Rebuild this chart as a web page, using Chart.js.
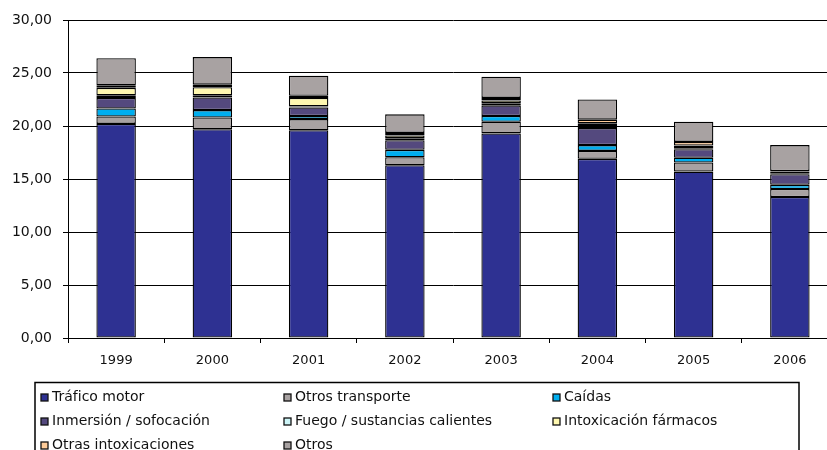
<!DOCTYPE html>
<html lang="es">
<head>
<meta charset="utf-8">
<title>Mortalidad por causas externas 1999-2006</title>
<script src="https://cdn.jsdelivr.net/npm/chart.js@4.4.1/dist/chart.umd.min.js"></script>
<style>
    html, body { margin: 0; padding: 0; background: #fff; overflow: hidden; }
    #caja { width: 840px; height: 460px; }
</style>
</head>
<body>
<div id="caja"><canvas id="graficobarras" width="840" height="460"></canvas></div>
<script>
// años (categorías del eje x)
const anios = ['1999', '2000', '2001', '2002', '2003', '2004', '2005', '2006'];

// tasas por causa, apiladas de abajo hacia arriba
const traficoMotor    = [20.2, 19.7, 19.6, 16.3, 19.3, 16.9, 15.7, 13.3];
const otrosTransporte = [0.70, 1.10, 1.05, 0.75, 1.10, 0.75, 0.85, 0.75];
const caidas          = [0.75, 0.70, 0.30, 0.70, 0.55, 0.55, 0.45, 0.40];
const inmersion       = [1.00, 1.20, 0.80, 0.90, 1.00, 1.60, 0.80, 1.00];
const fuego           = [0.25, 0.20, 0.10, 0.20, 0.20, 0.20, 0.10, 0.10];
const intoxFarmacos   = [0.70, 0.75, 0.80, 0.25, 0.25, 0.25, 0.25, 0.15];
const otrasIntox      = [0.25, 0.25, 0.20, 0.25, 0.25, 0.35, 0.35, 0.05];
const otros           = [2.55, 2.60, 1.90, 1.75, 2.00, 1.90, 1.90, 2.45];

// marcas del eje y
const ticksY = [0, 5, 10, 15, 20, 25, 30];

const series = [
    { nombre: 'Tráfico motor', datos: traficoMotor, color: '#2E3192' },
    { nombre: 'Otros transporte', datos: otrosTransporte, color: '#A8A2A2' },
    { nombre: 'Caídas', datos: caidas, color: '#00AEEF' },
    { nombre: 'Inmersión / sofocación', datos: inmersion, color: '#54497E' },
    { nombre: 'Fuego / sustancias calientes', datos: fuego, color: '#CCF4F6' },
    { nombre: 'Intoxicación fármacos', datos: intoxFarmacos, color: '#FFF8B0' },
    { nombre: 'Otras intoxicaciones', datos: otrasIntox, color: '#FFCC99' },
    { nombre: 'Otros', datos: otros, color: '#A8A2A2' }
];

const fuente = 'DejaVu Sans, Verdana, sans-serif';

// leyenda en tres columnas dentro de un recuadro
const leyendaCaja = {
    id: 'leyendaCaja',
    afterDraw(chart) {
        const ctx = chart.ctx;
        const colX = [41, 284, 553];
        const filaY = [397.5, 421.5, 445.5];

        ctx.save();
        ctx.strokeStyle = '#000';
        ctx.lineWidth = 1.5;
        ctx.strokeRect(35, 382.5, 764, 120);

        ctx.font = '14px ' + fuente;
        ctx.textBaseline = 'middle';
        ctx.textAlign = 'left';

        const ds = chart.data.datasets;
        for (let i = 0; i < ds.length; i++) {
            const x = colX[i % 3];
            const y = filaY[Math.floor(i / 3)];
            ctx.fillStyle = ds[i].backgroundColor;
            ctx.fillRect(x, y - 3.5, 7, 7);
            ctx.strokeStyle = '#111';
            ctx.lineWidth = 1.3;
            ctx.strokeRect(x, y - 3.5, 7, 7);
            ctx.fillStyle = '#111';
            ctx.fillText(ds[i].label, x + 11, y);
        }
        ctx.restore();
    }
};

function plotarGrafico() {
    let datasets = [];
    for (let i = 0; i < series.length; i++) {
        datasets.push({
            label: series[i].nombre,
            data: series[i].datos,
            backgroundColor: series[i].color,
            borderColor: '#000',
            borderWidth: 1.3,
            borderSkipped: false,
            barPercentage: 0.41,
            categoryPercentage: 1
        });
    }

    window.graficoBarras = new Chart(document.getElementById('graficobarras'), {
        type: 'bar',
        data: { labels: anios, datasets: datasets },
        options: {
            responsive: false,
            animation: false,
            devicePixelRatio: 1,
            layout: {
                padding: { top: 20, right: 2, bottom: 92, left: 0 }
            },
            plugins: {
                legend: { display: false },
                title: { display: false },
                tooltip: { enabled: false }
            },
            scales: {
                x: {
                    stacked: true,
                    afterFit: (escala) => { escala.height = 30; },
                    grid: {
                        offset: true,
                        drawOnChartArea: false,
                        tickLength: 5,
                        color: '#000'
                    },
                    border: { color: '#000', width: 1 },
                    ticks: {
                        color: '#111',
                        padding: 10,
                        font: { family: fuente, size: 13 }
                    }
                },
                y: {
                    stacked: true,
                    min: 0,
                    max: 30,
                    afterFit: (escala) => { escala.width = 68; },
                    afterBuildTicks: (escala) => {
                        escala.ticks = ticksY.map(v => ({ value: v }));
                    },
                    grid: {
                        color: '#000',
                        lineWidth: 1,
                        tickLength: 5
                    },
                    border: { color: '#000', width: 1 },
                    ticks: {
                        color: '#111',
                        padding: 11,
                        font: { family: fuente, size: 14 },
                        callback: (v) => Number(v).toFixed(2).replace('.', ',')
                    }
                }
            }
        },
        plugins: [leyendaCaja]
    });
}

window.onload = () => {
    plotarGrafico();
};
</script>
</body>
</html>
